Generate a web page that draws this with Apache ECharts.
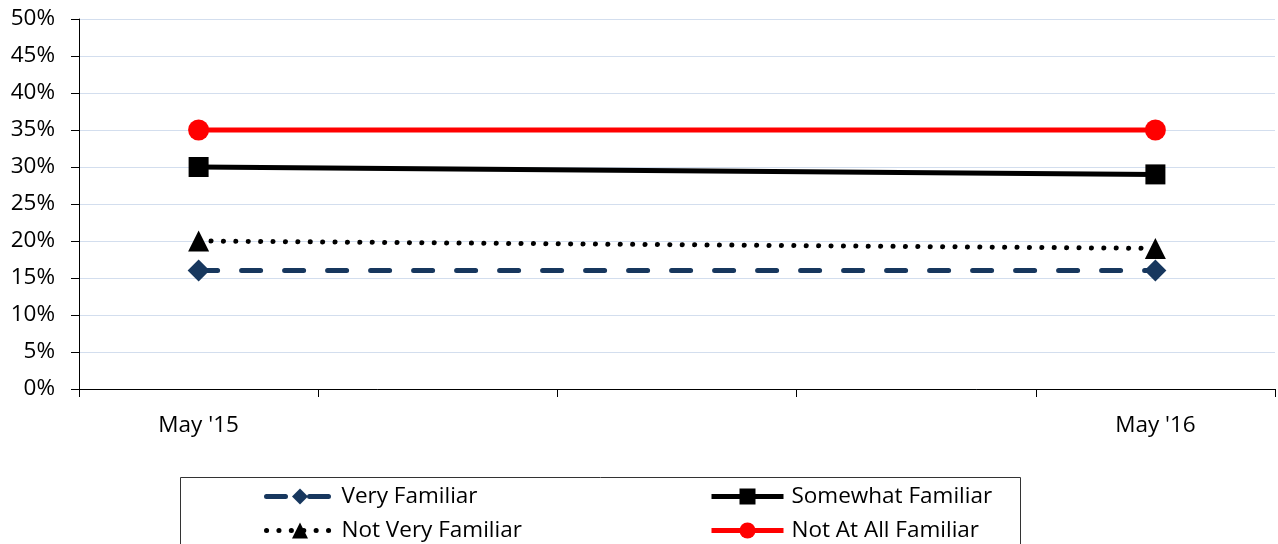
<!DOCTYPE html>
<html><head><meta charset="utf-8">
<script src="https://cdn.jsdelivr.net/npm/echarts@6/dist/echarts.min.js"></script>
<style>html,body{margin:0;padding:0;background:#fff}#c{width:1278px;height:544px}</style>
</head><body><div id="c"></div>
<script>
const categories = ["May '15", "", "", "", "May '16"];
const veryFamiliar = [16, null, null, null, 16];
const somewhatFamiliar = [30, null, null, null, 29];
const notVeryFamiliar = [20, null, null, null, 19];
const notAtAllFamiliar = [35, null, null, null, 35];
const yTicks = [0, 5, 10, 15, 20, 25, 30, 35, 40, 45, 50];
const seriesNames = ['Very Familiar', 'Somewhat Familiar', 'Not Very Familiar', 'Not At All Familiar'];

const FONT = "Open Sans";
const FS = 22.5;
function legendAt(name, left, top, w) {
  return {
    data: [name], left: left, top: top, orient: 'horizontal', padding: 0,
    itemWidth: w, itemHeight: 20, itemGap: 0,
    textStyle: {fontSize: FS, color: '#000', fontFamily: FONT, lineHeight: 22, padding: [0, 0, 0, 3]},
    lineStyle: {width: 5}
  };
}
const chart = echarts.init(document.getElementById('c'));
chart.setOption({
  animation: false,
  textStyle: {fontFamily: FONT},
  grid: {left: 79, right: 3, top: 19, bottom: 155},
  xAxis: {
    type: 'category', data: categories, boundaryGap: true,
    axisLine: {lineStyle: {color: '#000', width: 1}},
    axisTick: {show: true, length: 8, interval: 0, lineStyle: {color: '#000'}},
    axisLabel: {interval: 0, color: '#000', fontSize: FS, margin: 25, fontFamily: FONT}
  },
  yAxis: {
    type: 'value', min: yTicks[0], max: yTicks[yTicks.length - 1], interval: 5,
    axisLine: {show: true, lineStyle: {color: '#000'}},
    axisTick: {show: true, length: 8, lineStyle: {color: '#000'}},
    axisLabel: {formatter: v => v + '%', color: '#000', fontSize: FS, margin: 24, fontFamily: FONT},
    splitLine: {lineStyle: {color: '#d3deee', width: 1}}
  },
  legend: [
    legendAt(seriesNames[0], 264, 485, 67),
    legendAt(seriesNames[2], 264, 519, 67),
    legendAt(seriesNames[1], 709, 485, 72),
    legendAt(seriesNames[3], 709, 519, 72)
  ],
  graphic: [{type: 'rect', shape: {x: 180.5, y: 477.5, width: 840, height: 90},
    style: {fill: 'none', stroke: '#333', lineWidth: 1}, silent: true}],
  series: [
    {name: seriesNames[0], type: 'line', data: veryFamiliar, connectNulls: true,
     symbol: 'diamond', symbolSize: 22, itemStyle: {color: '#17375e'},
     lineStyle: {color: '#17375e', width: 5, type: [19, 24], cap: 'round'}, z: 2},
    {name: seriesNames[1], type: 'line', data: somewhatFamiliar, connectNulls: true,
     symbol: 'rect', symbolSize: 20, itemStyle: {color: '#000'},
     lineStyle: {color: '#000', width: 5}, z: 3},
    {name: seriesNames[2], type: 'line', data: notVeryFamiliar, connectNulls: true,
     symbol: 'triangle', symbolSize: 21, itemStyle: {color: '#000'},
     lineStyle: {color: '#000', width: 5, type: [0.1, 12.3], cap: 'round'}, z: 2},
    {name: seriesNames[3], type: 'line', data: notAtAllFamiliar, connectNulls: true,
     symbol: 'circle', symbolSize: 21, itemStyle: {color: '#ff0000'},
     lineStyle: {color: '#ff0000', width: 5}, z: 4}
  ]
});
</script></body></html>
